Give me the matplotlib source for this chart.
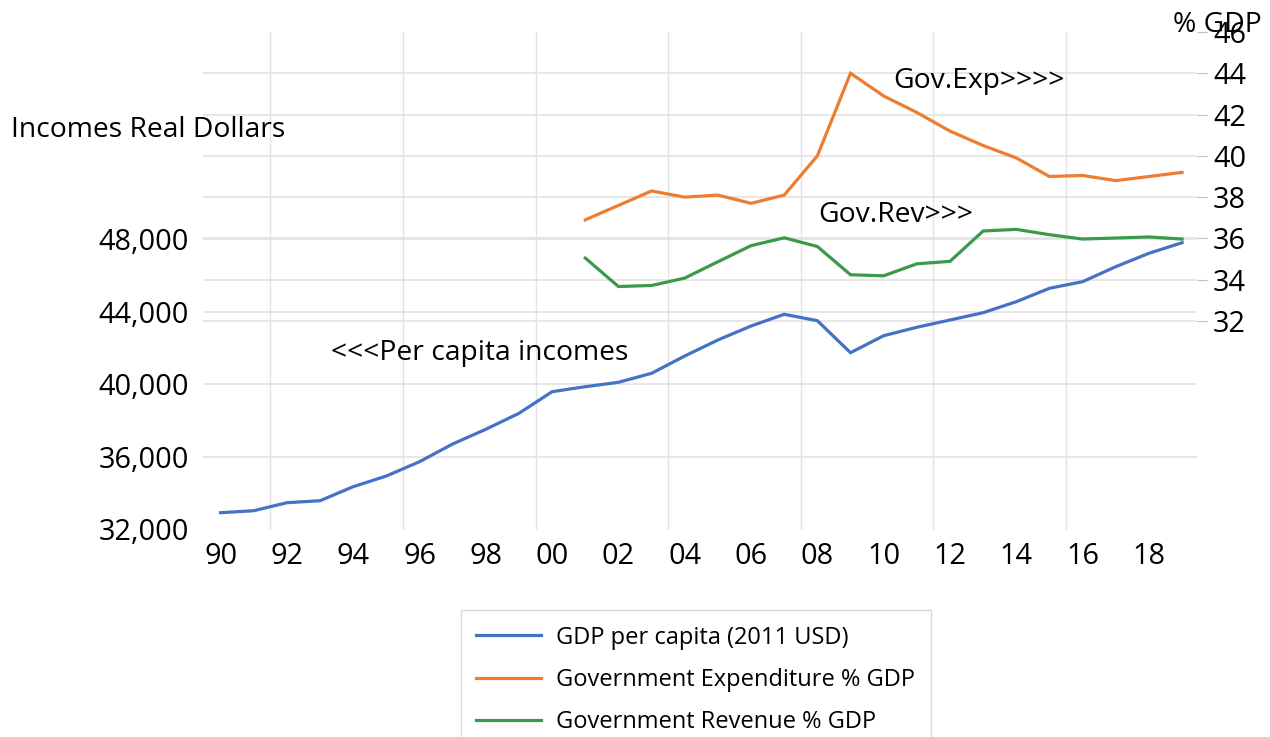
import matplotlib
matplotlib.use("Agg")
import matplotlib.pyplot as plt
from matplotlib.ticker import FixedLocator, FixedFormatter

# ---- data -------------------------------------------------------------
years = list(range(1990, 2020))
gdp_per_capita = [32925, 33035, 33476, 33586, 34358, 34947, 35735, 36711,
                  37521, 38402, 39592, 39868, 40110, 40606, 41559, 42441,
                  43212, 43857, 43504, 41741, 42678, 43141, 43543, 43945,
                  44551, 45290, 45653, 46480, 47218, 47802]

gov_years = list(range(2001, 2020))
gov_expenditure = [36.9, 37.6, 38.3, 38.0, 38.1, 37.7, 38.1, 40.0, 44.0,
                   42.9, 42.1, 41.2, 40.5, 39.9, 39.0, 39.05, 38.8, 39.0,
                   39.2]
gov_revenue = [35.05, 33.67, 33.72, 34.08, 34.87, 35.65, 36.03, 35.61,
               34.24, 34.19, 34.77, 34.89, 36.36, 36.44, 36.18, 35.97,
               36.02, 36.07, 35.97]

x_tick_years = list(range(1990, 2020, 2))
x_tick_labels = ["90", "92", "94", "96", "98", "00", "02", "04", "06",
                 "08", "10", "12", "14", "16", "18"]
income_ticks = [32000, 36000, 40000, 44000, 48000]
income_labels = ["32,000", "36,000", "40,000", "44,000", "48,000"]
pct_ticks = [32, 34, 36, 38, 40, 42, 44, 46]
pct_labels = ["32", "34", "36", "38", "40", "42", "44", "46"]

series_names = ["GDP per capita (2011 USD)",
                "Government Expenditure % GDP",
                "Government Revenue % GDP"]

# ---- style ------------------------------------------------------------
plt.rcParams["font.family"] = ["Open Sans", "DejaVu Sans"]
BLUE, ORANGE, GREEN = "#4472C4", "#ED7D31", "#3B9A4A"
GRID = "#e3e3e3"
LW = 2.3
FS_TICK = 20.8
FS_NOTE = 20.3
FS_LEG = 17
W, H = 1270, 737


def px(x, y):
    """Pixel position -> figure fraction."""
    return x / W, 1 - y / H


fig = plt.figure(figsize=(W / 100, H / 100), dpi=100)
left, top = px(203, 32)
right, bottom = px(1197, 529.5)
ax = fig.add_axes([left, bottom, right - left, top - bottom])
ax2 = ax.twinx()

ax.set_xlim(1989.47, 2019.45)
ax.set_ylim(32000, 59410)
ax2.set_ylim(21.9, 46.0)

for a in (ax, ax2):
    for s in a.spines.values():
        s.set_visible(False)
ax.set_facecolor("none")
ax2.set_facecolor("none")

# gridlines: vertical every four years, horizontal for both scales
for gx in [1991.5, 1995.5, 1999.5, 2003.5, 2007.5, 2011.5, 2015.5]:
    ax.axvline(gx, color=GRID, lw=1.0, zorder=0)
for gy in income_ticks[1:]:
    ax.axhline(gy, color=GRID, lw=1.2, zorder=0)
for gy in pct_ticks[:-1]:
    ax.plot([0, 1], [gy, gy], transform=ax2.get_yaxis_transform(),
            color=GRID, lw=1.2, zorder=0)

# series
h1, = ax.plot(years, gdp_per_capita, color=BLUE, lw=LW, zorder=3,
              solid_joinstyle="miter")
h2, = ax2.plot(gov_years, gov_expenditure, color=ORANGE, lw=LW, zorder=3,
               solid_joinstyle="miter")
h3, = ax2.plot(gov_years, gov_revenue, color=GREEN, lw=LW, zorder=3,
               solid_joinstyle="miter")

# axes ticks
ax.xaxis.set_major_locator(FixedLocator(x_tick_years))
ax.xaxis.set_major_formatter(FixedFormatter(x_tick_labels))
ax.yaxis.set_major_locator(FixedLocator(income_ticks))
ax.yaxis.set_major_formatter(FixedFormatter(income_labels))
ax.tick_params(axis="x", length=0, pad=9, labelsize=FS_TICK)
ax.tick_params(axis="y", length=0, pad=10, labelsize=FS_TICK)

ax2.yaxis.set_major_locator(FixedLocator(pct_ticks))
ax2.yaxis.set_major_formatter(FixedFormatter(pct_labels))
ax2.tick_params(axis="y", length=7.2, width=0.8, color="#bfbfbf",
                labelcolor="black", pad=4.3, labelsize=FS_TICK)

# annotations
fig.text(*px(11, 136.7), "Incomes Real Dollars", fontsize=FS_NOTE,
         ha="left", va="baseline")
fig.text(*px(1173, 32.3), "% GDP", fontsize=FS_NOTE, ha="left",
         va="baseline")
fig.text(*px(893, 88.3), "Gov.Exp>>>>", fontsize=FS_NOTE, ha="left",
         va="baseline")
fig.text(*px(818, 221.7), "Gov.Rev>>>", fontsize=FS_NOTE, ha="left",
         va="baseline")
fig.text(*px(331, 360), "<<<Per capita incomes", fontsize=FS_NOTE,
         ha="left", va="baseline")

# legend
leg = fig.legend([h1, h2, h3], series_names, loc="upper left",
                 bbox_to_anchor=px(460.7, 610), borderaxespad=0,
                 fontsize=FS_LEG, borderpad=0.66, labelspacing=0.78,
                 handlelength=2.75, handletextpad=0.64, frameon=True,
                 fancybox=False, framealpha=1, edgecolor="#d9d9d9")
leg.get_frame().set_linewidth(1.0)

fig.savefig("out.png", dpi=100)
